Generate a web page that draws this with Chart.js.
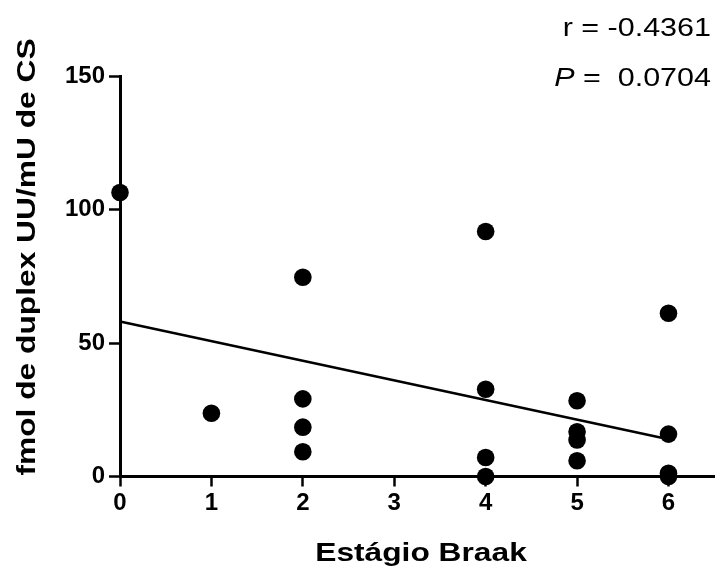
<!DOCTYPE html>
<html>
<head>
<meta charset="utf-8">
<script src="https://cdn.jsdelivr.net/npm/chart.js@4.4.1/dist/chart.umd.min.js"></script>
<style>
  html, body { margin: 0; padding: 0; background: #fff; }
  #wrap { width: 723px; height: 569px; position: relative; }
</style>
</head>
<body>
<div id="wrap"><canvas id="braakChart"></canvas></div>
<script>
// Braak stage vs. duplex UU per mU citrate synthase
const stage = [0, 1, 2, 2, 2, 2, 4, 4, 4, 4, 5, 5, 5, 5, 6, 6, 6, 6];
const fmol = [106.5, 23.7, 74.7, 29.1, 18.5, 9.3, 91.9, 32.7, 7.1, 0, 28.4, 16.8, 13.7, 5.9, 61.2, 15.9, 1.2, 0];

// linear fit end points
const fitX = [0, 6];
const fitY = [58.1, 14.0];

const xTicks = [0, 1, 2, 3, 4, 5, 6];
const yTicks = [0, 50, 100, 150];

const statLines = ['r = -0.4361', '0.0704'];

const FONT = '"Liberation Sans", Arial, sans-serif';
const WIDE = 1.22; // glyphs render a bit wider than plain Arial

function wideText(ctx, text, x, y, align, angle) {
    ctx.save();
    ctx.translate(x, y);
    if (angle) ctx.rotate(angle);
    ctx.scale(WIDE, 1);
    ctx.textAlign = align;
    ctx.fillText(text, 0, 0);
    ctx.restore();
}

const labelsPlugin = {
    id: 'labelsPlugin',
    afterDraw(chart) {
        const ctx = chart.ctx;
        ctx.save();
        ctx.fillStyle = '#000';
        ctx.textBaseline = 'alphabetic';

        // axis titles
        ctx.font = 'bold 26px ' + FONT;
        wideText(ctx, 'Estágio Braak', 421, 561, 'center');
        wideText(ctx, 'fmol de duplex UU/mU de CS', 35, 257, 'center', -Math.PI / 2);

        // correlation stats, right aligned
        ctx.font = '25px ' + FONT;
        const right = 711;
        wideText(ctx, statLines[0], right, 36, 'right');
        wideText(ctx, ' =  ' + statLines[1], right, 86, 'right');
        const w = ctx.measureText(' =  ' + statLines[1]).width * WIDE;
        ctx.font = 'italic 25px ' + FONT;
        wideText(ctx, 'P', right - w, 86, 'right');
        ctx.restore();
    }
};

const ctx = document.getElementById('braakChart').getContext('2d');
new Chart(ctx, {
    data: {
        datasets: [{
            type: 'scatter',
            data: stage.map((s, i) => ({ x: s, y: fmol[i] })),
            backgroundColor: '#000',
            borderWidth: 0,
            pointRadius: 8.8,
            pointHoverRadius: 8.8,
            clip: false,
            order: 1
        }, {
            type: 'line',
            data: fitX.map((s, i) => ({ x: s, y: fitY[i] })),
            borderColor: '#000',
            borderWidth: 2.5,
            pointRadius: 0,
            fill: false,
            clip: false,
            order: 2
        }]
    },
    options: {
        responsive: true,
        maintainAspectRatio: false,
        animation: false,
        events: [],
        layout: {
            padding: { left: 0, right: 2, top: 76.5, bottom: 0 }
        },
        scales: {
            x: {
                type: 'linear',
                min: 0,
                max: 6.5,
                afterFit: (scale) => { scale.height = 92.5; },
                afterBuildTicks: (scale) => { scale.ticks = xTicks.map(v => ({ value: v })); },
                border: { display: true, color: '#000', width: 3 },
                grid: {
                    drawOnChartArea: false,
                    drawTicks: true,
                    tickLength: 10,
                    tickWidth: 2.5,
                    tickColor: '#000'
                },
                ticks: {
                    color: '#000',
                    padding: 2,
                    maxRotation: 0,
                    font: { family: FONT, size: 24, weight: 'bold' }
                }
            },
            y: {
                min: 0,
                max: 150,
                afterFit: (scale) => { scale.width = 120; },
                afterBuildTicks: (scale) => { scale.ticks = yTicks.map(v => ({ value: v })); },
                border: { display: true, color: '#000', width: 3 },
                grid: {
                    drawOnChartArea: false,
                    drawTicks: true,
                    tickLength: 11,
                    tickWidth: 2.5,
                    tickColor: '#000'
                },
                ticks: {
                    color: '#000',
                    padding: 4,
                    font: { family: FONT, size: 24, weight: 'bold' }
                }
            }
        },
        plugins: {
            legend: { display: false },
            tooltip: { enabled: false },
            title: { display: false }
        }
    },
    plugins: [labelsPlugin]
});
</script>
</body>
</html>
